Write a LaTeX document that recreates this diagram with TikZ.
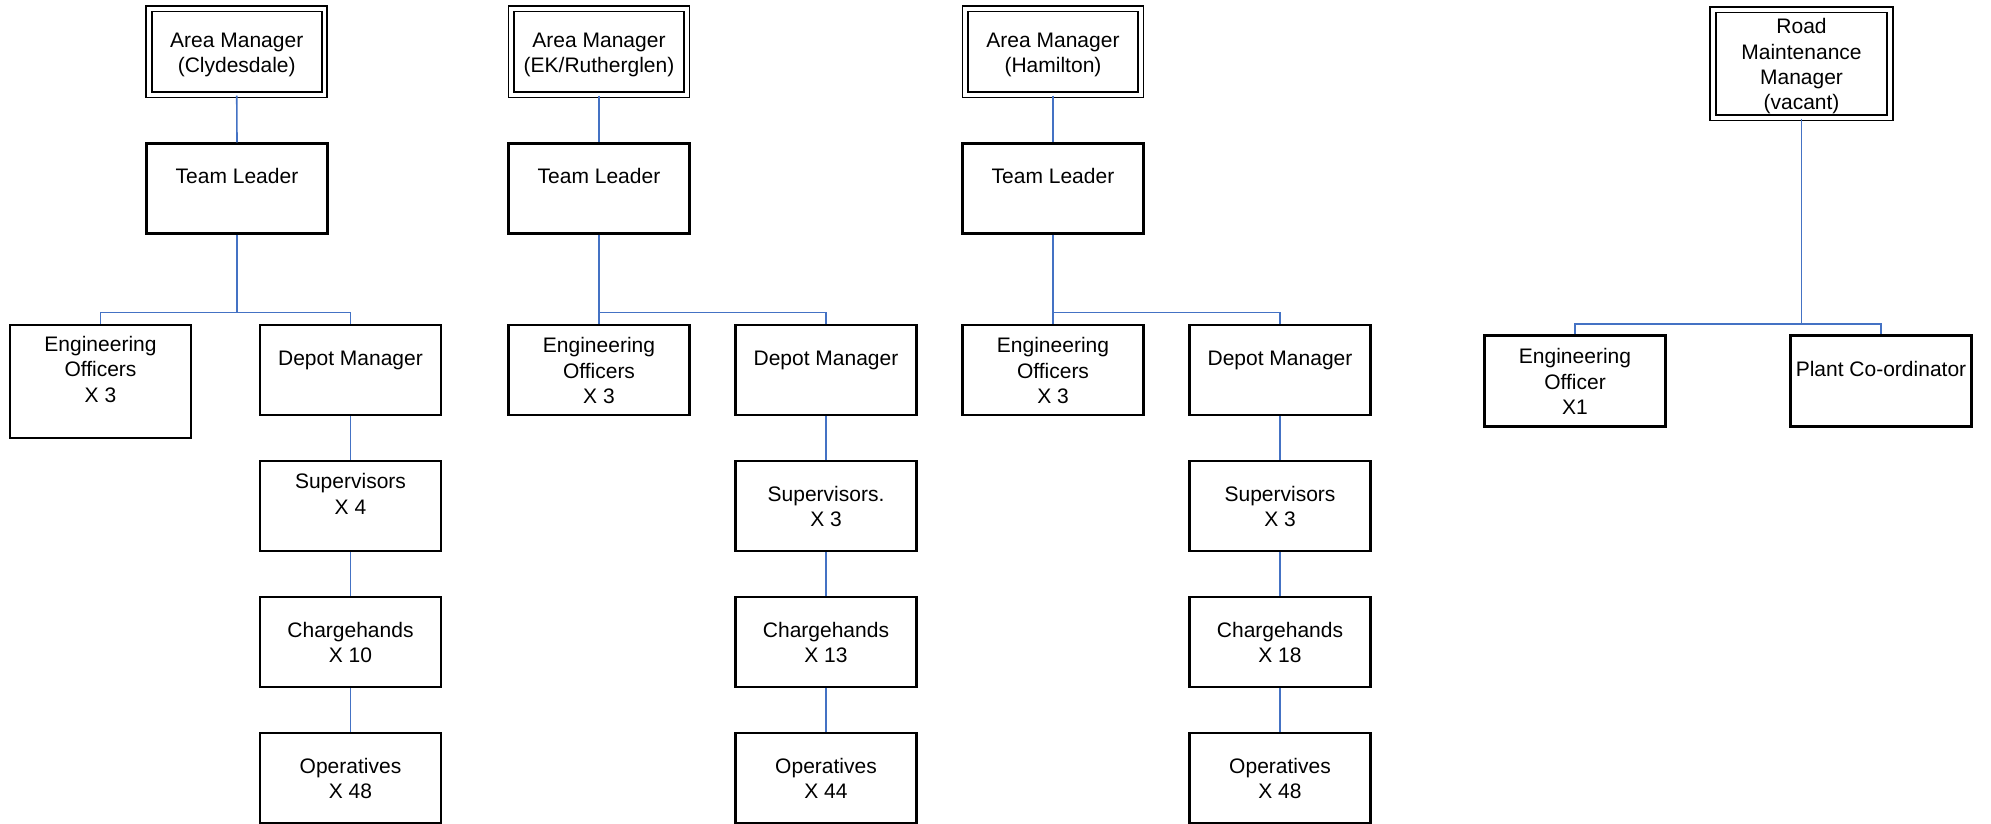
\documentclass[tikz,border=0pt]{standalone}
\usepackage{fontspec}
\setmainfont{Liberation Sans}
\definecolor{conncol}{RGB}{68,114,196}
\newcommand\sst{\rule[-4.6pt]{0pt}{25.3pt}}
\tikzset{
  box/.style={draw=black, line width=2.2pt, minimum width=181pt, minimum height=90pt,
    inner sep=0pt, align=center, font=\fontsize{21}{25.3}\selectfont},
  mgr/.style={box, double=white, double distance=3.8pt, line width=1.8pt},
  conn/.style={draw=conncol, line width=1.6pt}
}
\begin{document}
\begin{tikzpicture}[x=1pt,y=-1pt]
\useasboundingbox (0,0) rectangle (1991,824);
% column 1
\node[mgr, minimum width=175.4pt, minimum height=86pt] (AM1) at (236.75,51.75) {\sst Area Manager\\\sst (Clydesdale)};
\node[box] (TL1) at (237,188.5) {\sst Team Leader\\\sst};
\node[box, minimum height=113.5pt] (EO1) at (100.5,381.5) {\sst Engineering\\\sst Officers\\\sst X 3\\\sst};
\node[box] (DM1) at (350.5,370) {\sst Depot Manager\\\sst};
\node[box] (SV1) at (350.5,506) {\sst Supervisors\\\sst X 4\\\sst};
\node[box] (CH1) at (350.5,642) {\sst Chargehands\\\sst X 10};
\node[box] (OP1) at (350.5,778) {\sst Operatives\\\sst X 48};
% column 2
\node[mgr, minimum width=175.4pt, minimum height=86pt] (AM2) at (599,51.75) {\sst Area Manager\\\sst (EK/Rutherglen)};
\node[box] (TL2) at (599,188.5) {\sst Team Leader\\\sst};
\node[box] (EO2) at (599,370) {\sst Engineering\\\sst Officers\\\sst X 3};
\node[box] (DM2) at (826,370) {\sst Depot Manager\\\sst};
\node[box] (SV2) at (826,506) {\sst Supervisors.\\\sst X 3};
\node[box] (CH2) at (826,642) {\sst Chargehands\\\sst X 13};
\node[box] (OP2) at (826,778) {\sst Operatives\\\sst X 44};
% column 3
\node[mgr, minimum width=175.4pt, minimum height=86pt] (AM3) at (1053,51.75) {\sst Area Manager\\\sst (Hamilton)};
\node[box] (TL3) at (1053,188.5) {\sst Team Leader\\\sst};
\node[box] (EO3) at (1053,370) {\sst Engineering\\\sst Officers\\\sst X 3};
\node[box] (DM3) at (1280,370) {\sst Depot Manager\\\sst};
\node[box] (SV3) at (1280,506) {\sst Supervisors\\\sst X 3};
\node[box] (CH3) at (1280,642) {\sst Chargehands\\\sst X 18};
\node[box] (OP3) at (1280,778) {\sst Operatives\\\sst X 48};
% column 4
\node[mgr, minimum width=177pt, minimum height=108pt] (RMM) at (1801.5,63.7) {\sst Road\\\sst Maintenance\\\sst Manager\\\sst (vacant)};
\node[box, minimum height=91pt] (EO4) at (1575,381) {\sst Engineering\\\sst Officer\\\sst X1};
\node[box, minimum height=91pt] (PC4) at (1881,381) {\sst Plant Co-ordinator\\\sst};
% bus coordinates
\coordinate (bus1) at (237,312.5);
\coordinate (bus2) at (599,312.5);
\coordinate (bus3) at (1053,312.5);
\coordinate (bus4) at (1801.5,324);
% connectors column 1
\draw[conn] (AM1.south) -- (TL1.north);
\draw[conn] (TL1.south) -- (bus1);
\draw[conn] (EO1.north) |- (bus1) -| (DM1.north);
\draw[conn] (DM1.south) -- (SV1.north);
\draw[conn] (SV1.south) -- (CH1.north);
\draw[conn] (CH1.south) -- (OP1.north);
% connectors column 2
\draw[conn] (AM2.south) -- (TL2.north);
\draw[conn] (TL2.south) -- (EO2.north);
\draw[conn] (bus2) -| (DM2.north);
\draw[conn] (DM2.south) -- (SV2.north);
\draw[conn] (SV2.south) -- (CH2.north);
\draw[conn] (CH2.south) -- (OP2.north);
% connectors column 3
\draw[conn] (AM3.south) -- (TL3.north);
\draw[conn] (TL3.south) -- (EO3.north);
\draw[conn] (bus3) -| (DM3.north);
\draw[conn] (DM3.south) -- (SV3.north);
\draw[conn] (SV3.south) -- (CH3.north);
\draw[conn] (CH3.south) -- (OP3.north);
% connectors column 4
\draw[conn] (RMM.south) -- (bus4);
\draw[conn] (EO4.north) |- (bus4) -| (PC4.north);
\end{tikzpicture}
\end{document}
